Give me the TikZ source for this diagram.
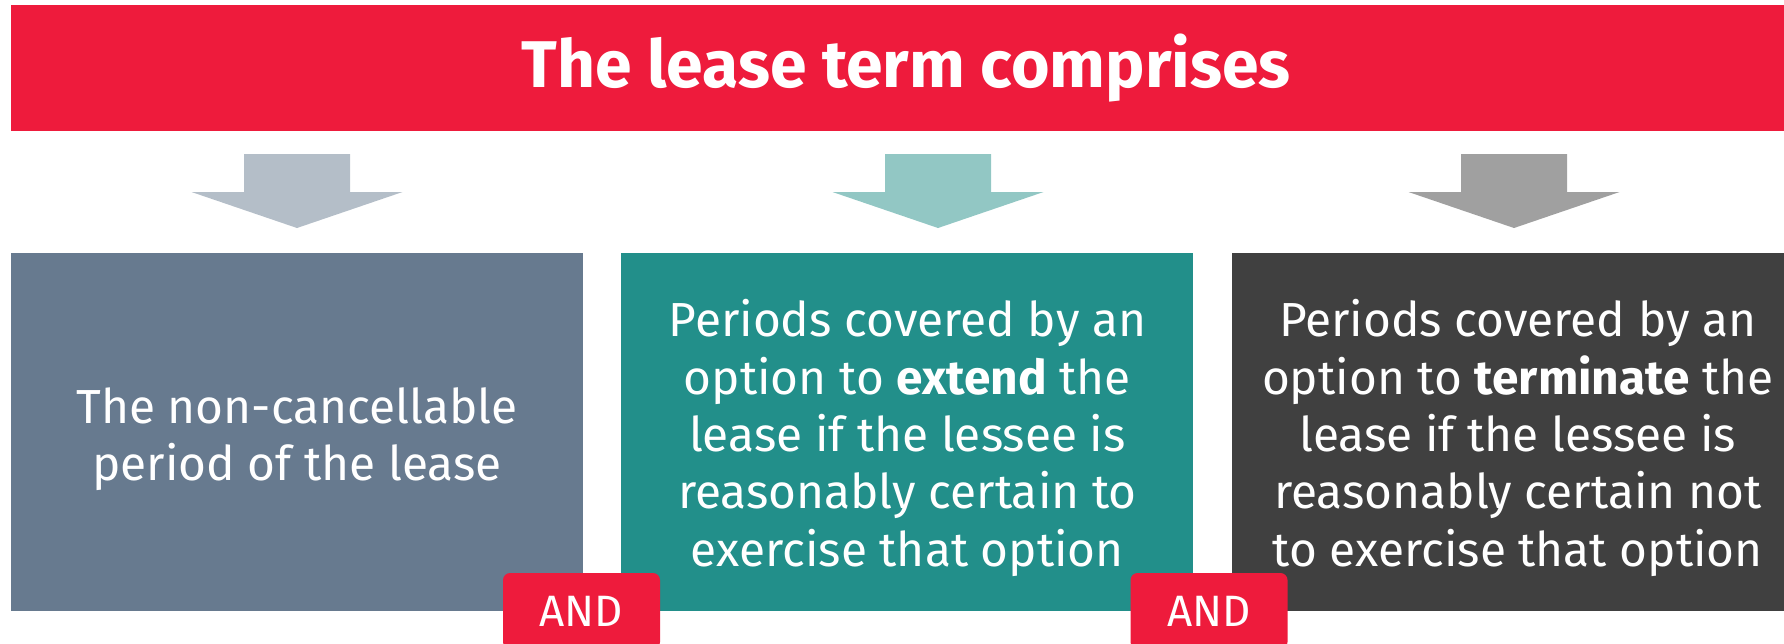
\documentclass[tikz,border=0pt]{standalone}
\usepackage{fontspec}
\setmainfont{Fira Sans}
\usetikzlibrary{positioning}
\definecolor{cTitle}{RGB}{238, 27, 60}
\definecolor{cSlate}{RGB}{103, 122, 143}
\definecolor{cTeal}{RGB}{34, 143, 138}
\definecolor{cDark}{RGB}{64, 64, 64}
\definecolor{aSlate}{RGB}{180, 190, 200}
\definecolor{aTeal}{RGB}{146, 199, 196}
\definecolor{aDark}{RGB}{160, 160, 160}

\begin{document}
\begin{tikzpicture}[
    font=\fontsize{13.6}{16.3}\selectfont,
    block/.style={
        fill=#1,
        minimum width=5.72cm,
        minimum height=3.58cm,
        inner sep=0pt
    },
    boxtext/.style={
        text=white,
        align=center,
        inner sep=0pt
    },
    badge/.style={
        fill=cTitle,
        text=white,
        rounded corners=2pt,
        minimum width=1.57cm,
        minimum height=0.76cm,
        inner sep=0pt,
        font=\fontsize{12.5}{14}\selectfont
    },
    downarrow/.pic={
        \path[pic actions] (-0.53,0) -- (0.53,0) -- (0.53,-0.38) -- (1.055,-0.38)
            -- (0,-0.74) -- (-1.055,-0.38) -- (-0.53,-0.38) -- cycle;
    }
]

\useasboundingbox (0,0) rectangle (17.84,-6.43);

\node[fill=cTitle, text=white, minimum width=17.9cm, minimum height=1.26cm,
      font=\bfseries\fontsize{18.8}{21}\selectfont] (title) at (9.06,-0.68) {The lease term comprises};

% the three parts of the term
\node[block=cSlate] (fixed) at (2.97,-4.32) {};
\node[block=cTeal, right=0.37cm of fixed] (extend) {};
\node[block=cDark, right=0.37cm of extend] (terminate) {};

\node[boxtext] (fixedtxt) at ([yshift=-0.07cm]fixed.center) {
    The non-cancellable\\
    period of the lease
};

\node[boxtext] (extendtxt) at ([yshift=-0.06cm]extend.center) {
    Periods covered by an\\
    option to \textbf{extend} the\\
    lease if the lessee is\\
    reasonably certain to\\
    exercise that option
};

\node[boxtext] (terminatetxt) at ([yshift=-0.06cm]terminate.center) {
    Periods covered by an\\
    option to \textbf{terminate} the\\
    lease if the lessee is\\
    reasonably certain not\\
    to exercise that option
};

% block arrows under the title
\pic[fill=aSlate] at (2.97,-1.54) {downarrow};
\pic[fill=aTeal] at (9.38,-1.54) {downarrow};
\pic[fill=aDark] at (15.14,-1.54) {downarrow};

\node[badge] (and1) at (5.815,-6.11) {AND};
\node[badge] (and2) at (12.09,-6.11) {AND};

\end{tikzpicture}
\end{document}
